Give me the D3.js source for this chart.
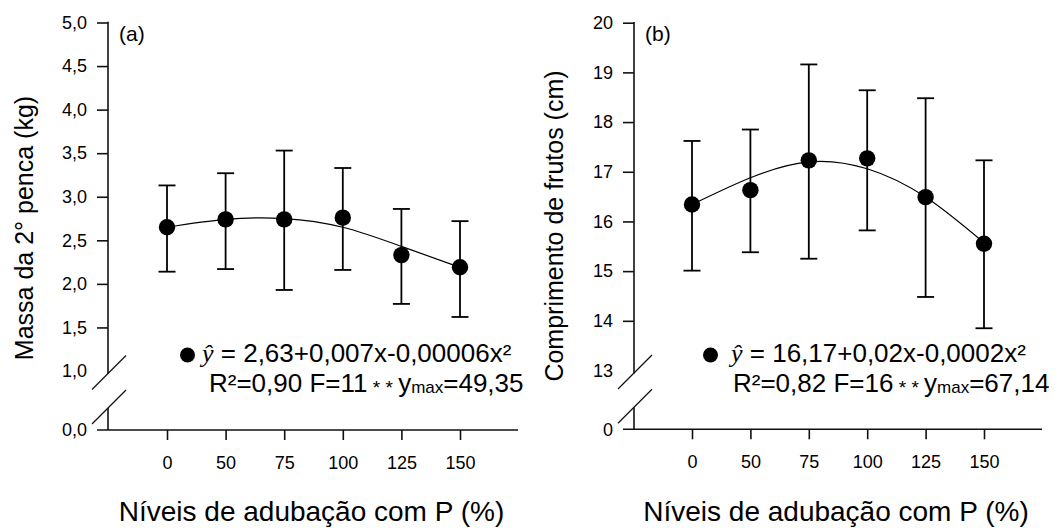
<!DOCTYPE html>
<html><head><meta charset="utf-8">
<script src="https://cdn.jsdelivr.net/npm/d3@7"></script>
<style>
html,body{margin:0;padding:0;background:#fff;}
svg{display:block;}
text{font-family:"Liberation Sans",Arial,sans-serif;fill:#000;}
</style></head>
<body>
<svg id="chart" width="1062" height="528"></svg>
<script>
// ---------- data ----------
const doses = ["0","50","75","100","125","150"];

const massaMean  = [2.65, 2.74, 2.74, 2.76, 2.33, 2.19];
const massaUpper = [3.13, 3.27, 3.53, 3.33, 2.86, 2.72];
const massaLower = [2.14, 2.17, 1.93, 2.16, 1.77, 1.62];
const massaFit   = [2.65, 2.74, 2.75, 2.65, 2.43, 2.19];
const massaTicks = [0, 1, 1.5, 2, 2.5, 3, 3.5, 4, 4.5, 5];

const compMean  = [16.34, 16.63, 17.23, 17.27, 16.49, 15.55];
const compUpper = [17.62, 17.85, 19.16, 18.64, 18.48, 17.23];
const compLower = [15.01, 15.38, 15.25, 15.82, 14.48, 13.85];
const compFit   = [16.34, 16.88, 17.20, 17.06, 16.49, 15.57];
const compTicks = [0, 13, 14, 15, 16, 17, 18, 19, 20];

const xTitle = "Níveis de adubação com P (%)";

// ---------- drawing ----------
const svg = d3.select("#chart");

function panel(cfg){
  const g = svg.append("g");
  const x = d3.scalePoint().domain(doses).range(cfg.xRange).padding(0);
  const y = d3.scaleLinear().domain([0, cfg.brk, cfg.top]).range(cfg.yRange);
  const ax = cfg.axisX;
  const y0 = y(0);

  // y axis
  const ya = g.append("g").attr("transform", `translate(${ax},0)`)
    .call(d3.axisLeft(y).tickValues(cfg.ticks).tickSize(11).tickPadding(10).tickFormat(cfg.fmt));
  ya.select(".domain").remove();
  ya.selectAll(".tick line").attr("stroke","#111").attr("stroke-width",1.6)
    .attr("display", d => (d === 0 || d === cfg.brk) ? "none" : null);
  ya.selectAll(".tick text").style("font-size","18px").attr("fill","#000");

  // broken y axis line
  const bTop = y(cfg.brk) + 3, bBot = y0 - 22;
  g.append("line").attr("x1",ax).attr("x2",ax).attr("y1",y(cfg.top)-0.8).attr("y2",bTop)
    .attr("stroke","#111").attr("stroke-width",1.6);
  g.append("line").attr("x1",ax).attr("x2",ax).attr("y1",bBot).attr("y2",y0)
    .attr("stroke","#111").attr("stroke-width",1.6);
  [bTop - 1.5, bBot - 1].forEach(cy => {
    g.append("line").attr("x1",ax+1-17).attr("y1",cy+17).attr("x2",ax+1+17).attr("y2",cy-17)
      .attr("stroke","#111").attr("stroke-width",1.3);
  });

  // x axis
  const xa = g.append("g").attr("transform", `translate(0,${y0})`)
    .call(d3.axisBottom(x).tickSize(10).tickPadding(16));
  xa.select(".domain").remove();
  xa.selectAll(".tick line").attr("stroke","#111").attr("stroke-width",1.6);
  xa.selectAll(".tick text").style("font-size","18px").attr("fill","#000");
  g.append("line").attr("x1",ax-11).attr("x2",x(doses[doses.length-1])+58)
    .attr("y1",y0).attr("y2",y0).attr("stroke","#111").attr("stroke-width",1.6);

  // fitted curve
  g.append("path").datum(cfg.fit)
    .attr("d", d3.line().x((d,i)=>x(doses[i])).y(d=>y(d)).curve(d3.curveNatural))
    .attr("fill","none").attr("stroke","#000").attr("stroke-width",1.2);

  // error bars
  doses.forEach((dz,i) => {
    const cx = x(dz);
    g.append("line").attr("x1",cx).attr("x2",cx).attr("y1",y(cfg.lower[i])).attr("y2",y(cfg.upper[i]))
      .attr("stroke","#000").attr("stroke-width",1.8);
    [cfg.lower[i], cfg.upper[i]].forEach(v => {
      g.append("line").attr("x1",cx-8.5).attr("x2",cx+8.5).attr("y1",y(v)).attr("y2",y(v))
        .attr("stroke","#000").attr("stroke-width",1.8);
    });
  });
  // points
  g.selectAll("circle.pt").data(cfg.mean).join("circle").attr("class","pt")
    .attr("cx",(d,i)=>x(doses[i])).attr("cy",d=>y(d)).attr("r",8.2).attr("fill","#000");

  // panel letter
  g.append("text").attr("x",ax+11).attr("y",y(cfg.top)+18).style("font-size","21px").text(cfg.letter);

  // y title
  g.append("text").attr("transform",`translate(${cfg.yTitleX},${cfg.yTitleY}) rotate(-90)`)
    .attr("text-anchor","middle").style("font-size","25px").text(cfg.yTitle);
  // x title
  const xm = (x(doses[0]) + x(doses[doses.length-1]))/2;
  g.append("text").attr("x",xm - 2).attr("y",521).attr("text-anchor","middle")
    .style("font-size","28px").text(xTitle);

  // legend
  g.append("circle").attr("cx",cfg.legDotX).attr("cy",355).attr("r",7.5).attr("fill","#000");
  const t1 = g.append("text").attr("x",cfg.leg1X).attr("y",362).style("font-size","26px");
  t1.append("tspan").style("font-family","'Liberation Serif','Times New Roman',serif")
    .style("font-style","italic").text("ŷ");
  t1.append("tspan").text(cfg.eq);
  const t2 = g.append("text").attr("x",cfg.leg2X).attr("y",392).style("font-size","26px");
  t2.append("tspan").text(cfg.stat1);
  t2.append("tspan").style("font-size","19px").attr("dy",1.5).text(" * * ");
  t2.append("tspan").attr("dy",-1.5).text("y");
  t2.append("tspan").style("font-size","17px").attr("dy",1).text("max");
  t2.append("tspan").attr("dy",-1).text(cfg.stat2);
}

panel({
  letter:"(a)", axisX:108, xRange:[167,460], yRange:[430,371,22.5], brk:1, top:5,
  ticks:massaTicks, fmt:d=>d3.format(".1f")(d).replace(".",","),
  mean:massaMean, upper:massaUpper, lower:massaLower, fit:massaFit,
  yTitle:"Massa da 2° penca (kg)", yTitleX:33, yTitleY:228,
  legDotX:187.5, leg1X:202, leg2X:209,
  eq:" = 2,63+0,007x-0,00006x²", stat1:"R²=0,90 F=11", stat2:"=49,35"
});
panel({
  letter:"(b)", axisX:634, xRange:[692,984], yRange:[429.3,370.5,22.7], brk:13, top:20,
  ticks:compTicks, fmt:d=>String(d),
  mean:compMean, upper:compUpper, lower:compLower, fit:compFit,
  yTitle:"Comprimento de frutos (cm)", yTitleX:563, yTitleY:226,
  legDotX:710.5, leg1X:731, leg2X:733,
  eq:" = 16,17+0,02x-0,0002x²", stat1:"R²=0,82 F=16", stat2:"=67,14"
});
</script>
</body></html>
